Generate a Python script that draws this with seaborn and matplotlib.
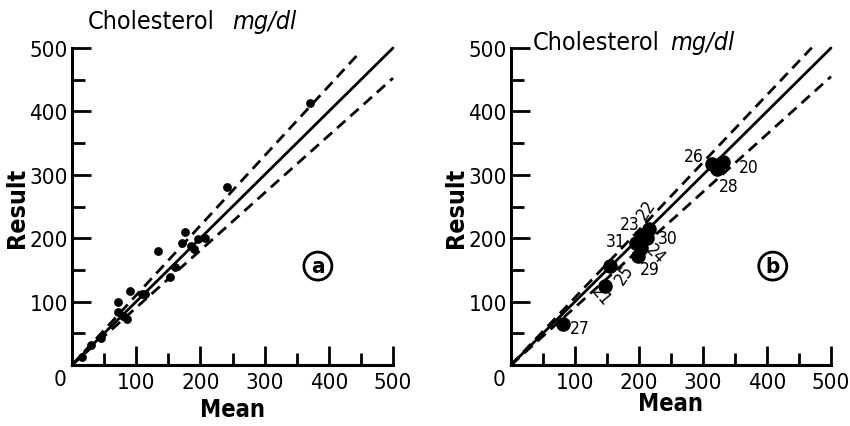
import matplotlib
matplotlib.use('Agg')
import matplotlib.pyplot as plt
import seaborn as sns

# panel a: mean vs result, all labs
mean_a = [371, 242, 134, 176, 172, 186, 196, 207, 190, 153, 109,
          90, 72, 80, 86, 71, 113, 160, 30, 45, 15]
result_a = [414, 280, 180, 210, 192, 188, 199, 201, 183, 139, 112,
            117, 99, 78, 73, 83, 112, 155, 32, 42, 12]

# panel b: labelled labs
labs_b = ['27', '21', '25', '31', '23', '22', '30', '24', '29', '26', '20', '28']
mean_b = [82, 147, 155, 195, 205, 215, 213, 203, 199, 314, 332, 322]
result_b = [64, 125, 156, 192, 205, 214, 200, 185, 172, 317, 320, 309]

# reference lines (identity and limits)
line_x = [0, 500]
upper_slope_a, lower_slope_a = 1.1, 0.905
upper_slope_b, lower_slope_b = 1.065, 0.91
upper_end_a = 450
upper_end_b = 470

ticks = [100, 200, 300, 400, 500]
minor_ticks = [50, 150, 250, 350, 450]

sns.set_theme(style='white')
plt.rcParams['font.family'] = ['DejaVu Sans']
plt.rcParams['font.stretch'] = 'condensed'
plt.rcParams['text.color'] = 'black'
plt.rcParams['axes.labelcolor'] = 'black'
plt.rcParams['xtick.color'] = 'black'
plt.rcParams['ytick.color'] = 'black'

fig = plt.figure(figsize=(8.5, 4.27), dpi=100)
ax_a = fig.add_axes([72 / 850, 61 / 427, 321 / 850, 317 / 427])
ax_b = fig.add_axes([511 / 850, 61 / 427, 320 / 850, 317 / 427])


def style_axes(ax):
    ax.set_xlim(0, 500)
    ax.set_ylim(0, 500)
    for side in ['top', 'right']:
        ax.spines[side].set_visible(False)
    for side in ['left', 'bottom']:
        ax.spines[side].set_linewidth(2.2)
        ax.spines[side].set_color('black')
    ax.set_xticks(ticks)
    ax.set_yticks(ticks)
    ax.set_xticks(minor_ticks, minor=True)
    ax.set_yticks(minor_ticks, minor=True)
    ax.tick_params(which='major', direction='in', length=14, width=2,
                   labelsize=16, color='black', labelcolor='black')
    ax.tick_params(which='minor', direction='in', length=9, width=2, color='black')
    ax.tick_params(axis='x', which='both', bottom=True)
    ax.tick_params(axis='y', which='both', left=True)
    ax.tick_params(axis='x', which='major', pad=5)
    ax.tick_params(axis='y', which='major', pad=3)
    ax.text(-18, -22, '0', ha='center', va='center', fontsize=16)
    ax.grid(False)


def draw_lines(ax, up, lo, up_end):
    sns.lineplot(x=line_x, y=line_x, ax=ax, color='black', lw=2, clip_on=False)
    sns.lineplot(x=[0, up_end], y=[0, up_end * up], ax=ax, color='black',
                 lw=2, linestyle=(0, (4, 2.4)), clip_on=False)
    sns.lineplot(x=line_x, y=[0, 500 * lo], ax=ax, color='black',
                 lw=2, linestyle=(0, (4, 2.4)), clip_on=False)


# panel a
draw_lines(ax_a, upper_slope_a, lower_slope_a, upper_end_a)
sns.scatterplot(x=mean_a, y=result_a, ax=ax_a, color='black', s=40,
                edgecolor='black', linewidth=0, clip_on=False, zorder=3)
style_axes(ax_a)
ax_a.text(25, 543, 'Cholesterol', fontsize=18, ha='left', va='center')
ax_a.text(249, 543, 'mg/dl', fontsize=18, ha='left', va='center', style='italic')
ax_a.set_xlabel('Mean', fontsize=17, fontweight='bold', labelpad=4)
ax_a.set_ylabel('Result', fontsize=18, fontweight='bold', labelpad=0)
ax_a.text(383, 156, 'a', fontsize=16, fontweight='bold', ha='center', va='center',
          bbox=dict(boxstyle='circle,pad=0.18', fc='white', ec='black', lw=2))

# panel b
draw_lines(ax_b, upper_slope_b, lower_slope_b, upper_end_b)
sns.scatterplot(x=mean_b, y=result_b, ax=ax_b, color='black', s=110,
                edgecolor='black', linewidth=0, clip_on=False, zorder=3)
style_axes(ax_b)
ax_b.text(34, 509, 'Cholesterol', fontsize=18, ha='left', va='center')
ax_b.text(248, 509, 'mg/dl', fontsize=18, ha='left', va='center', style='italic')
ax_b.set_xlabel('Mean', fontsize=17, fontweight='bold', labelpad=-1)
ax_b.set_ylabel('Result', fontsize=18, fontweight='bold', labelpad=0)
ax_b.text(409, 156, 'b', fontsize=16, fontweight='bold', ha='center', va='center',
          bbox=dict(boxstyle='circle,pad=0.18', fc='white', ec='black', lw=2))

label_pos = {
    '27': (108, 59, 0), '21': (140, 110, -50), '25': (178, 144, 55),
    '31': (163, 195, 0), '23': (185, 222, 0), '22': (212, 246, 55),
    '30': (245, 200, 0), '24': (225, 176, -45), '29': (217, 152, 0),
    '26': (285, 330, 0), '20': (371, 312, 0), '28': (340, 283, 0),
}
for lab in labs_b:
    lx, ly, rot = label_pos[lab]
    ax_b.text(lx, ly, lab, fontsize=12.5, ha='center', va='center', rotation=rot)

fig.savefig('out.png', dpi=100)
